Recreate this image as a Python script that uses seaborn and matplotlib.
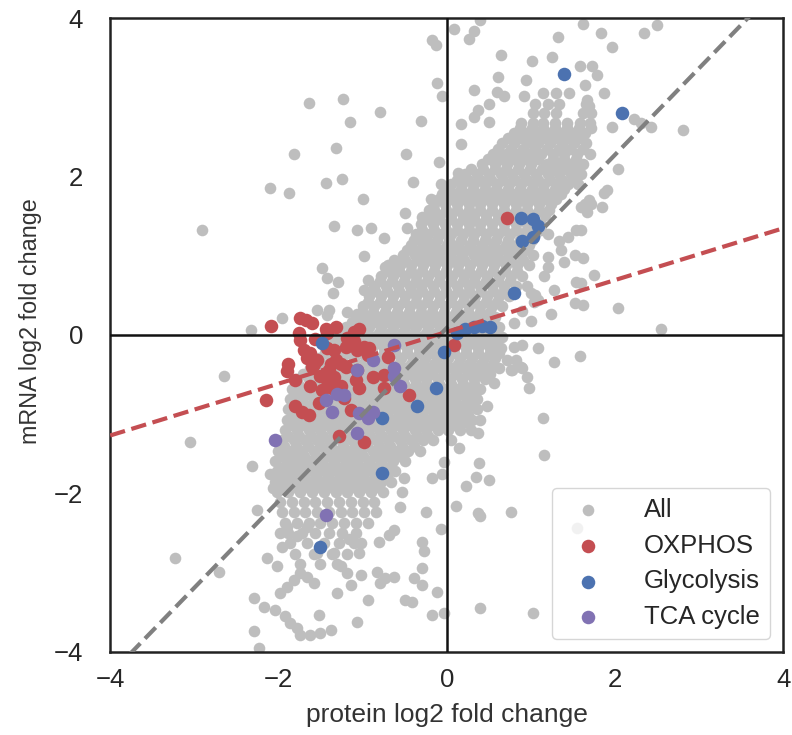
import matplotlib
matplotlib.use("Agg")
import matplotlib.pyplot as plt
import seaborn as sns
import pandas as pd
import numpy as np

# Gray "All" cloud: dense core read row by row (y level, x positions)
all_rows = [
    (3.05, [1.15, 1.30, 1.45]),
    (2.92, [1.05, 1.20, 1.34, 1.66]),
    (2.80, [1.02, 1.16, 1.30, 1.62, 1.72]),
    (2.67, [0.88, 1.02, 1.15, 1.29, 1.43, 1.58, 1.70]),
    (2.55, [0.80, 0.94, 1.08, 1.22, 1.36, 1.50, 1.64]),
    (2.42, [0.66, 0.80, 0.95, 1.09, 1.23, 1.37, 1.51, 1.66]),
    (2.29, [0.55, 0.70, 0.84, 0.98, 1.12, 1.26, 1.40, 1.55, 1.70]),
    (2.16, [0.42, 0.57, 0.72, 0.86, 1.00, 1.19, 1.33, 1.47, 1.62]),
    (2.03, [0.22, 0.36, 0.50, 0.64, 0.78, 0.92, 1.06, 1.20, 1.34, 1.48, 1.60]),
    (1.90, [0.05, 0.18, 0.32, 0.46, 0.60, 0.74, 0.88, 1.02, 1.16, 1.30, 1.44, 1.56]),
    (1.78, [-0.05, 0.10, 0.24, 0.38, 0.52, 0.66, 0.80, 0.94, 1.08, 1.22, 1.36]),
    (1.65, [-0.15, -0.02, 0.12, 0.26, 0.40, 0.54, 0.68, 0.82, 0.96, 1.10, 1.24, 1.64, 1.72]),
    (1.52, [-0.22, -0.08, 0.05, 0.19, 0.33, 0.47, 0.61, 0.75, 0.89, 1.03, 1.17]),
    (1.40, [-0.30, -0.16, -0.02, 0.12, 0.26, 0.40, 0.54, 0.68, 0.82, 0.96, 1.12]),
    (1.27, [-0.36, -0.22, -0.08, 0.05, 0.19, 0.33, 0.47, 0.61, 0.75, 0.89, 1.05, 1.20]),
    (1.14, [-0.42, -0.28, -0.14, 0.00, 0.14, 0.28, 0.42, 0.56, 0.70, 0.84, 0.98]),
    (1.01, [-0.52, -0.38, -0.24, -0.10, 0.04, 0.18, 0.32, 0.46, 0.60, 0.74, 0.88, 1.02]),
    (0.88, [-0.70, -0.56, -0.42, -0.28, -0.14, 0.00, 0.14, 0.28, 0.42, 0.56, 0.70, 0.84, 0.98]),
    (0.75, [-0.78, -0.64, -0.50, -0.36, -0.22, -0.08, 0.06, 0.20, 0.34, 0.48, 0.62, 0.76, 0.90]),
    (0.62, [-0.86, -0.72, -0.58, -0.44, -0.30, -0.16, -0.02, 0.12, 0.26, 0.40, 0.54, 0.68, 0.82]),
    (0.49, [-0.92, -0.78, -0.64, -0.50, -0.36, -0.22, -0.08, 0.06, 0.20, 0.34, 0.48, 0.62, 0.74]),
    (0.36, [-1.00, -0.86, -0.72, -0.58, -0.44, -0.30, -0.16, -0.02, 0.12, 0.26, 0.40, 0.54, 0.66]),
    (0.23, [-1.08, -0.94, -0.80, -0.66, -0.52, -0.38, -0.24, -0.10, 0.04, 0.18, 0.32, 0.46, 0.58]),
    (0.10, [-1.20, -1.06, -0.92, -0.78, -0.64, -0.50, -0.36, -0.22, -0.08, 0.06, 0.20, 0.34, 0.48, 0.62]),
    (-0.03, [-1.30, -1.16, -1.02, -0.88, -0.74, -0.60, -0.46, -0.32, -0.18, -0.04, 0.10, 0.24, 0.38, 0.52, 0.66]),
    (-0.16, [-1.45, -1.31, -1.17, -1.03, -0.89, -0.75, -0.61, -0.47, -0.33, -0.19, -0.05, 0.09, 0.23, 0.37, 0.51, 0.65]),
    (-0.29, [-1.52, -1.38, -1.24, -1.10, -0.96, -0.82, -0.68, -0.54, -0.40, -0.26, -0.12, 0.02, 0.16, 0.30, 0.44, 0.58]),
    (-0.42, [-1.62, -1.48, -1.34, -1.20, -1.06, -0.92, -0.78, -0.64, -0.50, -0.36, -0.22, -0.08, 0.06, 0.20, 0.34, 0.48, 0.62]),
    (-0.55, [-1.78, -1.64, -1.50, -1.36, -1.22, -1.08, -0.94, -0.80, -0.66, -0.52, -0.38, -0.24, -0.10, 0.04, 0.18, 0.32, 0.46]),
    (-0.68, [-1.84, -1.70, -1.56, -1.42, -1.28, -1.14, -1.00, -0.86, -0.72, -0.58, -0.44, -0.30, -0.16, -0.02, 0.12, 0.26, 0.40]),
    (-0.81, [-1.86, -1.72, -1.58, -1.44, -1.30, -1.16, -1.02, -0.88, -0.74, -0.60, -0.46, -0.32, -0.18, -0.04, 0.10, 0.24, 0.36]),
    (-0.94, [-1.88, -1.74, -1.60, -1.46, -1.32, -1.18, -1.04, -0.90, -0.76, -0.62, -0.48, -0.34, -0.20, -0.06, 0.08, 0.22, 0.36]),
    (-1.07, [-1.90, -1.76, -1.62, -1.48, -1.34, -1.20, -1.06, -0.92, -0.78, -0.64, -0.50, -0.36, -0.22, -0.08, 0.06, 0.18, 0.30]),
    (-1.20, [-1.92, -1.78, -1.64, -1.50, -1.36, -1.22, -1.08, -0.94, -0.80, -0.66, -0.52, -0.38, -0.24, -0.10, 0.02, 0.16]),
    (-1.33, [-1.96, -1.82, -1.68, -1.54, -1.40, -1.26, -1.12, -0.98, -0.84, -0.70, -0.56, -0.42, -0.28, -0.16, 0.05]),
    (-1.46, [-2.00, -1.86, -1.72, -1.58, -1.44, -1.30, -1.16, -1.02, -0.88, -0.74, -0.60, -0.46, -0.32]),
    (-1.59, [-2.04, -1.90, -1.76, -1.62, -1.48, -1.34, -1.20, -1.06, -0.92, -0.78, -0.64, -0.50]),
    (-1.72, [-2.02, -1.88, -1.74, -1.60, -1.46, -1.32, -1.18, -1.04, -0.90, -0.76, -0.62]),
    (-1.85, [-2.04, -1.90, -1.76, -1.62, -1.48, -1.34, -1.20, -1.06, -0.92, -0.78, -0.66]),
    (-1.98, [-2.02, -1.88, -1.74, -1.60, -1.46, -1.32, -1.18, -1.04, -0.90, -0.76]),
    (-2.11, [-1.98, -1.84, -1.70, -1.56, -1.42, -1.28, -1.14, -1.00, -0.86]),
    (-2.24, [-1.96, -1.82, -1.68, -1.54, -1.40, -1.26, -1.12, -0.98, -0.84]),
    (-2.37, [-1.92, -1.78, -1.64, -1.50, -1.36, -1.22, -1.08, -0.94]),
    (-2.50, [-1.88, -1.72, -1.56, -1.40, -1.24, -1.08]),
    (-2.63, [-1.86, -1.66, -1.46, -1.28, -1.10]),
    (-2.76, [-1.80, -1.58, -1.36, -1.18]),
    (-2.89, [-1.74, -1.50, -1.30]),
]

# second pass over the saturated part of the cloud (between the rows above)
all_rows_mid = [
    (2.61, [0.87, 1.01, 1.15, 1.29, 1.43, 1.57]),
    (2.48, [0.73, 0.87, 1.01, 1.15, 1.29, 1.43, 1.57]),
    (2.35, [0.61, 0.77, 0.91, 1.05, 1.19, 1.33, 1.47, 1.62]),
    (2.22, [0.49, 0.64, 0.79, 0.93, 1.09, 1.26, 1.40, 1.54]),
    (2.09, [0.29, 0.43, 0.57, 0.71, 0.85, 0.99, 1.13, 1.27, 1.41, 1.54]),
    (1.96, [0.12, 0.25, 0.39, 0.53, 0.67, 0.81, 0.95, 1.09, 1.23, 1.37, 1.50]),
    (1.84, [0.03, 0.17, 0.31, 0.45, 0.59, 0.73, 0.87, 1.01, 1.15, 1.29, 1.40]),
    (1.71, [-0.09, 0.05, 0.19, 0.33, 0.47, 0.61, 0.75, 0.89, 1.03, 1.17, 1.30]),
    (1.58, [-0.15, -0.01, 0.12, 0.26, 0.40, 0.54, 0.68, 0.82, 0.96, 1.10, 1.22]),
    (1.46, [-0.23, -0.09, 0.05, 0.19, 0.33, 0.47, 0.61, 0.75, 0.89, 1.03]),
    (1.33, [-0.29, -0.15, -0.01, 0.12, 0.26, 0.40, 0.54, 0.68, 0.82, 0.96, 1.12]),
    (1.20, [-0.39, -0.25, -0.11, 0.03, 0.17, 0.31, 0.45, 0.59, 0.73, 0.87, 1.01]),
    (1.07, [-0.47, -0.33, -0.19, -0.05, 0.09, 0.23, 0.37, 0.51, 0.65, 0.79, 0.93]),
    (0.94, [-0.63, -0.49, -0.35, -0.21, -0.07, 0.07, 0.21, 0.35, 0.49, 0.63, 0.77, 0.91]),
    (0.81, [-0.71, -0.57, -0.43, -0.29, -0.15, -0.01, 0.13, 0.27, 0.41, 0.55, 0.69, 0.83]),
    (0.68, [-0.79, -0.65, -0.51, -0.37, -0.23, -0.09, 0.05, 0.19, 0.33, 0.47, 0.61, 0.75]),
    (0.55, [-0.85, -0.71, -0.57, -0.43, -0.29, -0.15, -0.01, 0.13, 0.27, 0.41, 0.55, 0.68]),
    (0.42, [-0.93, -0.79, -0.65, -0.51, -0.37, -0.23, -0.09, 0.05, 0.19, 0.33, 0.47, 0.60]),
    (0.29, [-1.01, -0.87, -0.73, -0.59, -0.45, -0.31, -0.17, -0.03, 0.11, 0.25, 0.39, 0.52]),
    (0.16, [-1.13, -0.99, -0.85, -0.71, -0.57, -0.43, -0.29, -0.15, -0.01, 0.13, 0.27, 0.41, 0.55]),
    (0.03, [-1.23, -1.09, -0.95, -0.81, -0.67, -0.53, -0.39, -0.25, -0.11, 0.03, 0.17, 0.31, 0.45, 0.59]),
    (-0.10, [-1.38, -1.24, -1.10, -0.96, -0.82, -0.68, -0.54, -0.40, -0.26, -0.12, 0.02, 0.16, 0.30, 0.44, 0.58]),
    (-0.23, [-1.45, -1.31, -1.17, -1.03, -0.89, -0.75, -0.61, -0.47, -0.33, -0.19, -0.05, 0.09, 0.23, 0.37, 0.51, 0.62]),
    (-0.36, [-1.55, -1.41, -1.27, -1.13, -0.99, -0.85, -0.71, -0.57, -0.43, -0.29, -0.15, -0.01, 0.13, 0.27, 0.41, 0.55]),
    (-0.49, [-1.71, -1.57, -1.43, -1.29, -1.15, -1.01, -0.87, -0.73, -0.59, -0.45, -0.31, -0.17, -0.03, 0.11, 0.25, 0.39, 0.52]),
    (-0.62, [-1.77, -1.63, -1.49, -1.35, -1.21, -1.07, -0.93, -0.79, -0.65, -0.51, -0.37, -0.23, -0.09, 0.05, 0.19, 0.33]),
    (-0.75, [-1.79, -1.65, -1.51, -1.37, -1.23, -1.09, -0.95, -0.81, -0.67, -0.53, -0.39, -0.25, -0.11, 0.03, 0.17, 0.30]),
    (-0.88, [-1.81, -1.67, -1.53, -1.39, -1.25, -1.11, -0.97, -0.83, -0.69, -0.55, -0.41, -0.27, -0.13, 0.01, 0.15, 0.29]),
    (-1.01, [-1.83, -1.69, -1.55, -1.41, -1.27, -1.13, -0.99, -0.85, -0.71, -0.57, -0.43, -0.29, -0.15, -0.01, 0.13, 0.25]),
    (-1.14, [-1.85, -1.71, -1.57, -1.43, -1.29, -1.15, -1.01, -0.87, -0.73, -0.59, -0.45, -0.31, -0.17, -0.03, 0.10]),
    (-1.27, [-1.89, -1.75, -1.61, -1.47, -1.33, -1.19, -1.05, -0.91, -0.77, -0.63, -0.49, -0.35, -0.22]),
    (-1.40, [-1.93, -1.79, -1.65, -1.51, -1.37, -1.23, -1.09, -0.95, -0.81, -0.67, -0.53, -0.39]),
    (-1.53, [-1.97, -1.83, -1.69, -1.55, -1.41, -1.27, -1.13, -0.99, -0.85, -0.71, -0.57]),
    (-1.66, [-1.95, -1.81, -1.67, -1.53, -1.39, -1.25, -1.11, -0.97, -0.83, -0.69]),
    (-1.79, [-1.97, -1.83, -1.69, -1.55, -1.41, -1.27, -1.13, -0.99, -0.85, -0.71]),
    (-1.92, [-1.95, -1.81, -1.67, -1.53, -1.39, -1.25, -1.11, -0.97, -0.83]),
]

# Gray "All" points outside the dense core (x, y)
all_extra = [
    (-0.17, 3.72), (-0.13, 3.66), (-0.11, 3.18), (-0.06, 3.02), (-1.64, 2.93), (-1.23, 2.98),
    (-1.15, 2.69), (-0.79, 2.82), (-0.30, 2.70), (-1.82, 2.28), (-1.32, 2.36), (-0.48, 2.29),
    (-0.09, 2.18), (-2.10, 1.86), (-1.87, 1.79), (-1.43, 1.92), (-1.25, 1.97), (-0.40, 1.93),
    (-0.07, 1.91), (-0.99, 1.72), (-0.19, 1.71), (-2.91, 1.32), (-1.34, 1.38), (-1.07, 1.33),
    (-0.90, 1.35), (-0.75, 1.23), (-0.50, 1.54), (-0.47, 1.35), (-0.98, 1.00), (-1.48, 0.85),
    (-1.42, 0.72), (-1.29, 0.67), (-1.35, 0.53), (-0.73, 0.86), (-0.94, 0.69), (-0.98, 0.57),
    (-1.54, 0.32), (-1.96, 0.21), (-2.33, 0.06), (-1.18, 0.29), (-1.06, 0.27), (-1.42, 0.25),
    (-0.29, 1.49), (-0.17, 1.51), (-0.21, 1.58), (-0.31, 1.28), (-0.27, 1.16), (-0.35, 0.99),
    (-0.61, 0.82), (-0.55, 0.90), (-1.40, 0.32),
    (0.09, 3.86), (0.33, 3.83), (0.27, 3.74), (0.40, 3.97), (1.62, 3.92), (1.83, 3.81),
    (1.32, 3.76), (1.96, 3.64), (2.34, 3.81), (2.50, 3.91), (0.64, 3.53), (1.01, 3.46),
    (1.25, 3.51), (1.58, 3.40), (1.73, 3.40), (1.79, 3.28), (0.61, 3.25), (0.94, 3.22),
    (1.64, 3.16), (0.33, 3.09), (0.60, 3.07), (0.68, 3.02), (0.92, 3.01), (0.17, 2.66),
    (0.33, 2.75), (0.50, 2.69), (0.37, 2.84), (0.50, 2.92), (0.17, 2.41), (1.87, 3.05),
    (1.67, 2.97), (1.69, 2.89), (1.97, 2.63), (2.31, 2.67), (2.43, 2.62), (2.81, 2.59),
    (2.23, 2.73), (1.71, 2.61), (2.03, 2.10), (1.87, 1.79), (1.85, 1.62), (1.69, 1.70),
    (1.67, 1.55), (1.91, 1.83), (1.54, 1.32), (1.44, 1.24), (1.34, 1.18), (1.52, 1.01),
    (1.62, 0.97), (1.40, 0.92), (1.75, 0.76), (1.54, 0.67), (1.62, 0.38), (2.03, 0.34),
    (2.55, 0.08), (1.20, 0.99), (1.20, 0.86), (1.16, 0.74), (1.24, 0.27), (1.00, 0.53),
    (1.04, 0.42), (0.13, 2.04), (0.31, 1.91), (1.60, 1.62), (1.60, 1.32), (1.36, 1.07),
    (1.60, 0.65), (1.52, 0.40), (1.28, 0.57), (1.08, 0.44), (0.95, 0.62), (1.05, 0.50),
    (0.90, 0.30), (1.00, 0.18), (0.80, 0.15),
    (-2.65, -0.52), (-3.05, -1.35), (-2.31, -1.65), (-3.23, -2.81), (-2.71, -2.99), (-2.25, -2.21),
    (-2.06, -1.93), (-2.10, -1.75), (-2.13, -2.82), (-2.02, -2.92), (-1.96, -2.67), (-2.29, -3.32),
    (-2.17, -3.43), (-2.04, -3.47), (-1.92, -3.55), (-1.86, -3.64), (-1.78, -3.70), (-1.74, -3.79),
    (-1.62, -3.79), (-1.50, -3.76), (-1.38, -3.72), (-2.29, -3.74), (-2.23, -3.95), (-1.98, -3.26),
    (-1.90, -3.18), (-1.82, -3.09), (-1.74, -3.01), (-1.66, -3.05), (-1.58, -3.13), (-1.52, -3.53),
    (-1.06, -3.62), (-1.30, -3.26), (-1.18, -3.01), (-1.02, -3.03), (-0.94, -3.34), (-0.83, -2.99),
    (-0.73, -3.07), (-0.63, -3.05), (-0.39, -3.07), (-0.29, -3.15), (-0.49, -3.34), (-0.41, -3.37),
    (-0.17, -3.53), (-0.03, -3.51), (-0.29, -2.61), (-0.27, -2.73), (-0.29, -2.94), (-0.25, -2.24),
    (-0.07, -2.45), (-0.51, -1.81), (-0.53, -1.98), (-0.55, -2.17), (-0.17, -1.81), (-0.03, -1.60),
    (-0.05, -1.75), (-0.63, -2.46), (-0.69, -2.52), (-0.81, -2.61), (-1.02, -2.63), (-1.04, -2.75),
    (-1.16, -2.57), (-0.79, -3.13), (-1.14, -3.16), (-0.11, -3.24), (-1.78, -2.54), (-1.66, -2.42),
    (-1.54, -2.75), (-1.34, -2.75), (-1.26, -2.92), (-1.90, -2.42), (-1.98, -2.50),
    (0.15, -1.43), (0.38, -1.62), (0.35, -1.79), (0.50, -1.83), (0.23, -1.91), (0.11, -2.16),
    (0.37, -2.25), (0.40, -2.28), (0.76, -2.24), (0.40, -3.45), (1.02, -3.51), (1.16, -1.51),
    (1.08, -0.17), (1.28, -0.34), (1.58, -0.27), (0.90, -0.13), (0.82, -0.32), (0.78, -0.44),
    (0.90, -0.42), (0.98, -0.67), (1.14, -1.05), (1.55, -2.44), (0.80, -0.15), (0.72, -0.32),
    (0.88, -0.40), (0.76, -0.44), (0.96, -0.53), (0.56, -0.61), (0.48, -0.90), (0.40, -1.07),
    (0.29, -1.20), (0.25, -1.11), (0.37, -1.24),
]

oxphos_pts = [
    (-2.09, 0.11), (-1.74, 0.21), (-1.67, 0.19), (-1.60, 0.15), (-1.76, 0.03), (-1.74, -0.06),
    (-1.70, -0.19), (-1.62, -0.23), (-1.66, -0.29), (-1.58, -0.36), (-1.88, -0.36), (-1.90, -0.45),
    (-1.80, -0.57), (-1.60, -0.40), (-1.54, -0.32), (-2.15, -0.82), (-1.80, -0.90), (-1.72, -0.97),
    (-1.64, -1.01), (-1.52, -0.86), (-1.44, 0.08), (-1.32, 0.10), (-1.42, 0.02), (-1.42, -0.17),
    (-1.34, -0.19), (-1.32, -0.32), (-1.40, -0.44), (-1.42, -0.57), (-1.36, -0.67), (-1.26, -0.65),
    (-1.38, -0.36), (-1.34, -0.53), (-1.26, -0.36), (-1.20, -0.40), (-1.18, -0.04), (-1.10, -0.08),
    (-1.04, 0.08), (-1.10, 0.04), (-1.06, -0.19), (-0.98, -0.15), (-0.92, -0.17), (-0.94, -0.25),
    (-1.06, -0.44), (-1.08, -0.57), (-1.04, -0.67), (-1.14, -0.95), (-0.88, -0.53), (-0.70, -0.28),
    (-0.75, -0.50), (-0.75, -0.67), (-0.45, -0.76), (-1.28, -1.28), (-0.98, -1.35), (0.09, -0.13),
    (0.72, 1.47), (-1.56, -0.05), (-1.50, -0.52), (-1.20, -0.15), (-1.62, -0.64), (-1.48, -0.70),
    (-1.22, -0.80),
]

glycolysis_pts = [
    (1.40, 3.29), (2.08, 2.80), (0.88, 1.47), (1.02, 1.46), (1.08, 1.37), (1.02, 1.24),
    (0.90, 1.18), (0.80, 0.53), (0.12, 0.03), (0.22, 0.08), (0.32, 0.10), (0.42, 0.11),
    (0.52, 0.10), (-1.48, -0.10), (-0.03, -0.21), (-0.13, -0.67), (-0.35, -0.90), (-0.77, -1.05),
    (-0.77, -1.74), (-1.50, -2.68),
]

tca_pts = [
    (-0.63, -0.13), (-0.87, -0.32), (-1.06, -0.44), (-0.63, -0.42), (-0.63, -0.52), (-0.55, -0.65),
    (-1.30, -0.74), (-1.22, -0.76), (-1.44, -0.82), (-1.36, -0.97), (-1.04, -0.99), (-0.94, -1.05),
    (-0.87, -0.97), (-1.06, -1.24), (-2.04, -1.32), (-1.43, -2.27),
]

# regression lines (slope, intercept)
all_fit = (1.093, 0.088)
oxphos_fit = (0.327, 0.039)

all_pts = ([(x, y) for y, xs in all_rows for x in xs]
           + [(x, y) for y, xs in all_rows_mid for x in xs]
           + all_extra)
df_all = pd.DataFrame(all_pts, columns=["protein", "mrna"])
df_ox = pd.DataFrame(oxphos_pts, columns=["protein", "mrna"])
df_gly = pd.DataFrame(glycolysis_pts, columns=["protein", "mrna"])
df_tca = pd.DataFrame(tca_pts, columns=["protein", "mrna"])

sns.set_style("white")
plt.rcParams["font.family"] = ["Liberation Sans", "DejaVu Sans"]
plt.rcParams["axes.unicode_minus"] = True

deep = sns.color_palette("deep")

fig, ax = plt.subplots(figsize=(7.92, 7.35), dpi=100)
fig.subplots_adjust(left=0.139, right=0.989, bottom=0.113, top=0.9755)

sns.scatterplot(data=df_all, x="protein", y="mrna", color="#bebebe", s=70,
                linewidth=0, label="All", ax=ax, zorder=2)
sns.scatterplot(data=df_ox, x="protein", y="mrna", color=deep[3], s=95,
                linewidth=0, label="OXPHOS", ax=ax, zorder=3)
sns.scatterplot(data=df_gly, x="protein", y="mrna", color=deep[0], s=95,
                linewidth=0, label="Glycolysis", ax=ax, zorder=3)
sns.scatterplot(data=df_tca, x="protein", y="mrna", color=deep[4], s=95,
                linewidth=0, label="TCA cycle", ax=ax, zorder=3)

xs = np.array([-4.5, 4.5])
ax.plot(xs, all_fit[0] * xs + all_fit[1], linestyle="--", color="#808080", lw=3, zorder=4)
ax.plot(xs, oxphos_fit[0] * xs + oxphos_fit[1], linestyle="--", color=deep[3], lw=3, zorder=4)

ax.axhline(0, color="#111111", lw=1.8, zorder=5)
ax.axvline(0, color="#111111", lw=1.8, zorder=5)

ax.set_xlim(-4, 4)
ax.set_ylim(-4, 4)
ax.set_xticks([-4, -2, 0, 2, 4])
ax.set_yticks([-4, -2, 0, 2, 4])
ax.tick_params(axis="x", labelsize=18.5, pad=8)
ax.tick_params(axis="y", labelsize=18.5, pad=16)
ax.set_xlabel("protein log2 fold change", fontsize=19, color="#333333", labelpad=8)
ax.set_ylabel("mRNA log2 fold change", fontsize=16.8, color="#333333")
ax.yaxis.set_label_coords(-0.101, 0.522)
for sp in ax.spines.values():
    sp.set_color("#222222")
    sp.set_linewidth(1.8)

leg = ax.legend(loc="lower right", fontsize=18.5, frameon=True, labelspacing=0.45,
                handletextpad=1.2, borderaxespad=0.5)
leg.get_frame().set_edgecolor("#cccccc")

fig.savefig("out.png", dpi=100)
